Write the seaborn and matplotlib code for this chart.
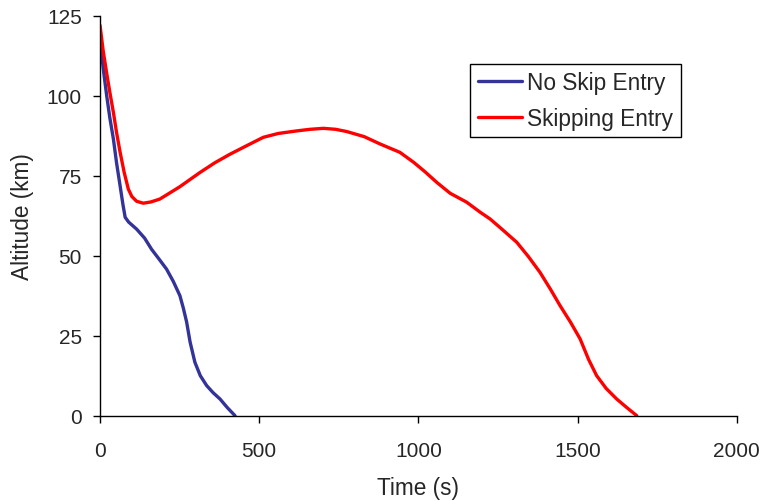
import pandas as pd
import seaborn as sns
from matplotlib import pyplot as plt

# Trajectoires
t_noskip = [0, 3, 12, 21, 31, 42, 52, 63, 72, 79, 90, 115, 140, 162, 185, 209, 230,
            251, 262, 272, 283, 298, 315, 335, 355, 377, 400, 424]
alt_noskip = [117, 114.6, 107, 100, 93, 86.5, 79, 71.9, 66, 62, 60.5, 58.3, 55.5, 52, 49, 45.8, 42,
              37.5, 33.5, 29.3, 23, 16.7, 12.5, 9.4, 7.2, 5.2, 2.5, 0]

t_skip = [0, 10, 21, 31, 42, 52, 63, 76, 89, 100, 115, 136, 160, 188, 250, 314, 360, 408, 471,
          513, 560, 618, 660, 702, 740, 775, 830, 880, 942, 985, 1020, 1058, 1100, 1152, 1194,
          1225, 1260, 1309, 1345, 1382, 1415, 1445, 1478, 1508, 1535, 1560, 1590, 1623, 1655, 1686]
alt_skip = [122, 114, 107, 101, 94.8, 88.5, 82.4, 76, 70.8, 68.5, 67, 66.4, 66.8, 67.7, 71.5, 76, 79, 81.7, 84.9,
            87, 88.2, 89, 89.5, 89.8, 89.5, 88.8, 87.2, 84.9, 82.3, 79.2, 76.3, 72.9, 69.5, 66.7, 63.6,
            61.5, 58.5, 54.2, 49.8, 44.8, 39.5, 34.4, 29.2, 24, 17.5, 12.5, 8.5, 5.2, 2.5, 0]

labels = ['No Skip Entry', 'Skipping Entry']
couleurs = ['#333399', '#FF0000']

df = pd.concat([
    pd.DataFrame({'Time': t_noskip, 'Altitude': alt_noskip, 'Entry': labels[0]}),
    pd.DataFrame({'Time': t_skip, 'Altitude': alt_skip, 'Entry': labels[1]}),
])

sns.set_style('ticks')
plt.rcParams['font.family'] = ['Liberation Sans', 'DejaVu Sans']

fig = plt.figure(figsize=(7.64, 5.02), dpi=100)
ax = fig.add_axes([0.1309, 0.170, 0.8334, 0.7967])

sns.lineplot(data=df, x='Time', y='Altitude', hue='Entry', palette=couleurs,
             sort=False, linewidth=2.4, ax=ax)

ax.set_xlim(0, 2000)
ax.set_ylim(0, 125)
ax.set_xticks([0, 500, 1000, 1500, 2000])
ax.set_yticks([0, 25, 50, 75, 100, 125])
ax.tick_params(labelsize=15, length=5, width=1, color='black')
ax.tick_params(axis='x', pad=13)
ax.tick_params(axis='y', pad=8)
ax.set_xlabel('Time (s)', fontsize=16.3, labelpad=12)
ax.set_ylabel('Altitude (km)', fontsize=16.3, labelpad=9)
sns.despine(ax=ax)
for s in ['left', 'bottom']:
    ax.spines[s].set_color('black')
    ax.spines[s].set_linewidth(1)

leg = ax.legend(loc='upper right', bbox_to_anchor=(0.912, 0.879), fontsize=16.3,
                fancybox=False, framealpha=1, edgecolor='black', handlelength=1.95,
                borderpad=0.32, labelspacing=0.55, handletextpad=0.25, borderaxespad=0)
leg.get_frame().set_linewidth(1)

plt.savefig('out.png', dpi=100)
